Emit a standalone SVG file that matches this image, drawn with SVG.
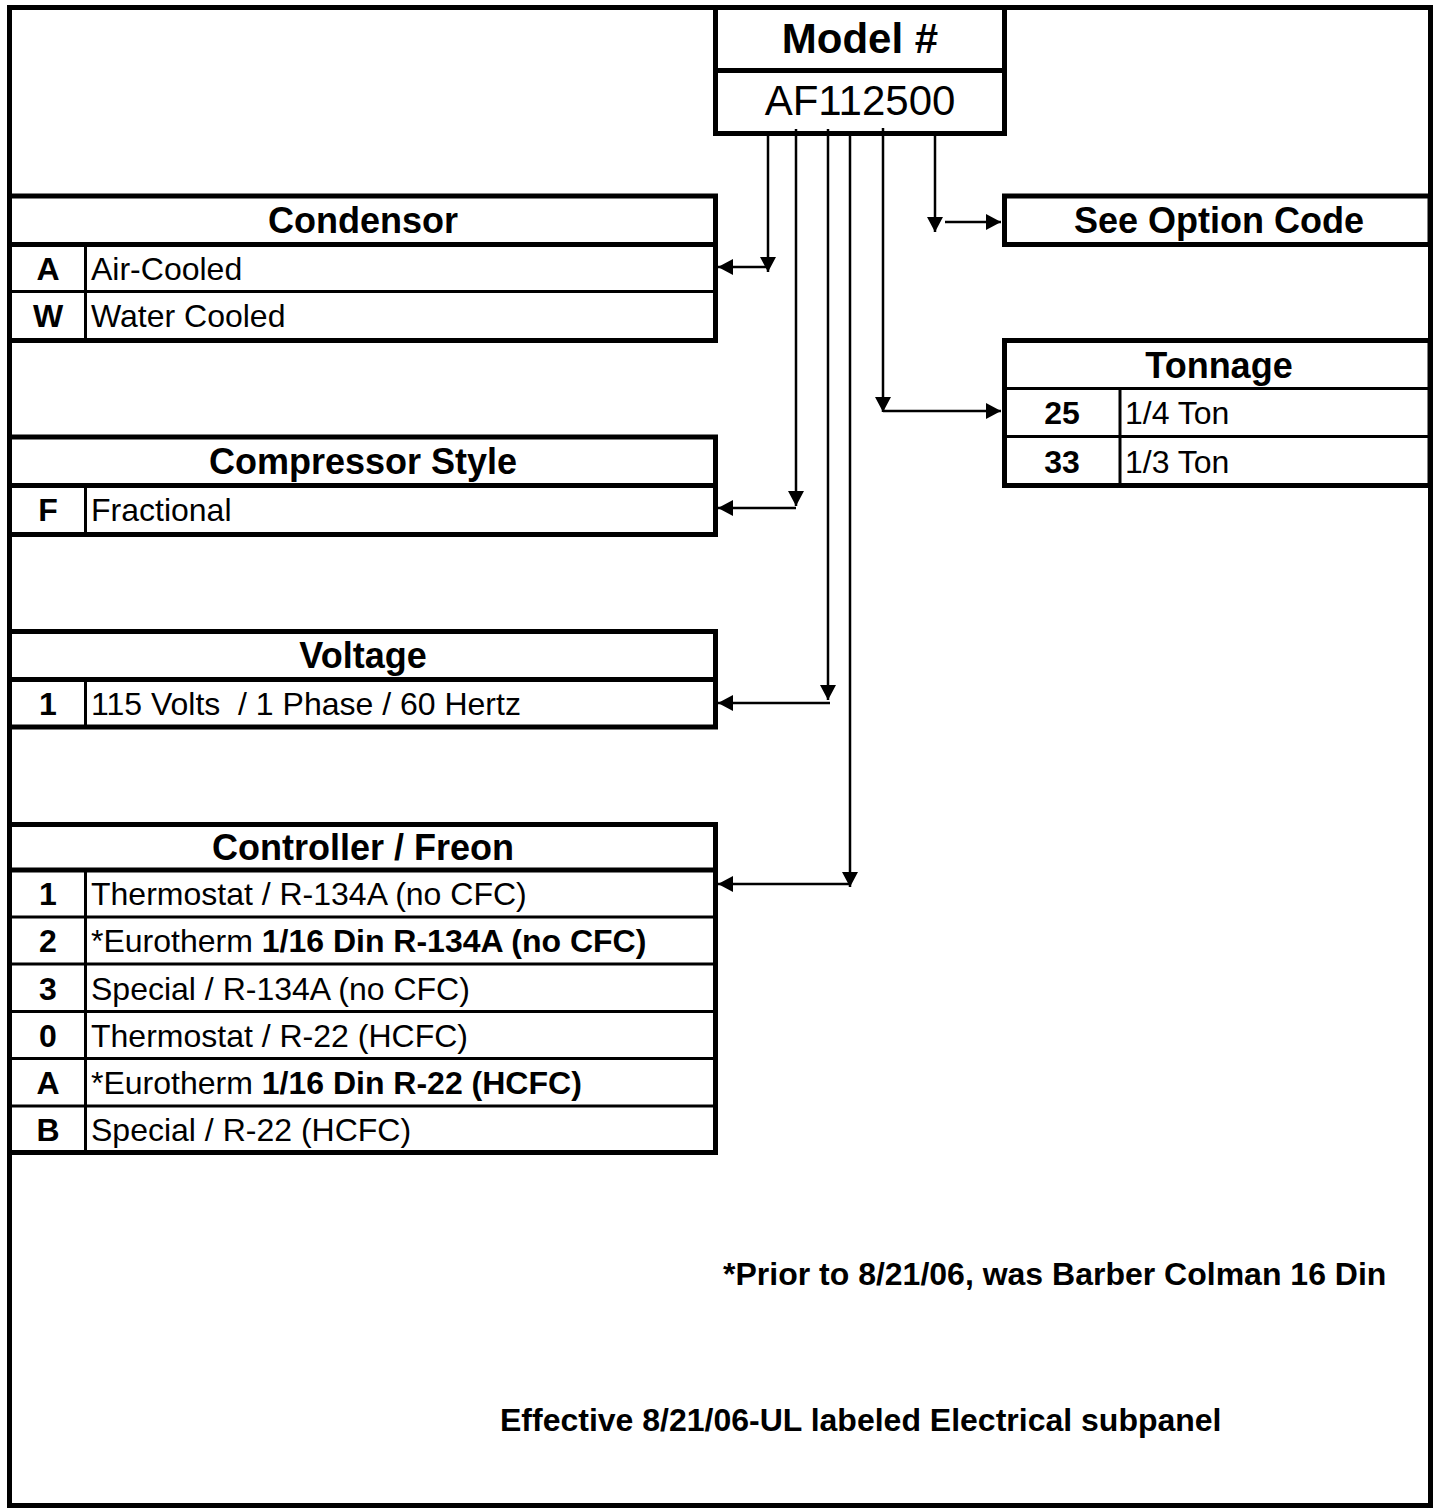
<svg xmlns="http://www.w3.org/2000/svg" width="1437" height="1511" viewBox="0 0 1437 1511">
<style>
.bx{fill:#fff;stroke:#000;stroke-width:5}
.d5{stroke:#000;stroke-width:5}
.d3{stroke:#000;stroke-width:3}
.cn{fill:none;stroke:#000;stroke-width:2.5}
text{font-family:"Liberation Sans",Arial,sans-serif;fill:#000;white-space:pre}
.h{font-size:36px;font-weight:bold;text-anchor:middle}
.k{font-size:32px;font-weight:bold;text-anchor:middle}
.r{font-size:32px}
.b{font-weight:bold}
.n{font-size:32px;font-weight:bold}
</style>
<defs>
<marker id="ah" markerUnits="userSpaceOnUse" markerWidth="16" markerHeight="16" refX="15" refY="8" orient="auto" viewBox="0 0 16 16">
<path d="M0,0 L15,8 L0,16 z" fill="#000"/>
</marker>
</defs>
<rect x="9.5" y="7.5" width="1421" height="1498" fill="#fff" stroke="#000" stroke-width="5"/>

<g id="model">
<rect class="bx" x="715.5" y="7.5" width="289" height="126"/>
<line class="d5" x1="715.5" y1="70.5" x2="1004.5" y2="70.5"/>
<text x="860" y="53" style="font-size:42px;font-weight:bold;text-anchor:middle">Model #</text>
<text x="860" y="115" style="font-size:42px;text-anchor:middle">AF112500</text>
</g>

<g id="condensor">
<rect class="bx" x="9.5" y="196" width="706" height="144.5"/>
<line class="d5" x1="9.5" y1="244.5" x2="715.5" y2="244.5"/>
<line class="d3" x1="9.5" y1="291.5" x2="715.5" y2="291.5"/>
<line class="d3" x1="85.5" y1="244.5" x2="85.5" y2="340.5"/>
<text class="h" x="363" y="233">Condensor</text>
<text class="k" x="48" y="280">A</text><text class="r" x="91" y="280">Air-Cooled</text>
<text class="k" x="48" y="327">W</text><text class="r" x="91" y="327">Water Cooled</text>
</g>

<g id="compressor">
<rect class="bx" x="9.5" y="437" width="706" height="97.5"/>
<line class="d5" x1="9.5" y1="485.5" x2="715.5" y2="485.5"/>
<line class="d3" x1="85.5" y1="485.5" x2="85.5" y2="534.5"/>
<text class="h" x="363" y="474">Compressor Style</text>
<text class="k" x="48" y="521">F</text><text class="r" x="91" y="521">Fractional</text>
</g>

<g id="voltage">
<rect class="bx" x="9.5" y="631.5" width="706" height="95.5"/>
<line class="d5" x1="9.5" y1="679.5" x2="715.5" y2="679.5"/>
<line class="d3" x1="85.5" y1="679.5" x2="85.5" y2="727"/>
<text class="h" x="363" y="668">Voltage</text>
<text class="k" x="48" y="715">1</text><text class="r" x="91" y="715">115 Volts  / 1 Phase / 60 Hertz</text>
</g>

<g id="controller">
<rect class="bx" x="9.5" y="824.5" width="706" height="328"/>
<line class="d5" x1="9.5" y1="870" x2="715.5" y2="870"/>
<line class="d3" x1="9.5" y1="917" x2="715.5" y2="917"/>
<line class="d3" x1="9.5" y1="964" x2="715.5" y2="964"/>
<line class="d3" x1="9.5" y1="1011.5" x2="715.5" y2="1011.5"/>
<line class="d3" x1="9.5" y1="1058.5" x2="715.5" y2="1058.5"/>
<line class="d3" x1="9.5" y1="1106" x2="715.5" y2="1106"/>
<line class="d3" x1="85.5" y1="870" x2="85.5" y2="1152.5"/>
<text class="h" x="363" y="860">Controller / Freon</text>
<text class="k" x="48" y="905">1</text><text class="r" x="91" y="905">Thermostat / R-134A (no CFC)</text>
<text class="k" x="48" y="952">2</text><text class="r" x="91" y="952">*Eurotherm <tspan class="b">1/16 Din R-134A (no CFC)</tspan></text>
<text class="k" x="48" y="999.5">3</text><text class="r" x="91" y="999.5">Special / R-134A (no CFC)</text>
<text class="k" x="48" y="1046.5">0</text><text class="r" x="91" y="1046.5">Thermostat / R-22 (HCFC)</text>
<text class="k" x="48" y="1093.5">A</text><text class="r" x="91" y="1093.5">*Eurotherm <tspan class="b">1/16 Din R-22 (HCFC)</tspan></text>
<text class="k" x="48" y="1140.5">B</text><text class="r" x="91" y="1140.5">Special / R-22 (HCFC)</text>
</g>

<g id="option">
<rect class="bx" x="1004.5" y="196" width="425.5" height="48.5"/>
<text class="h" x="1219" y="233">See Option Code</text>
</g>

<g id="tonnage">
<rect class="bx" x="1004.5" y="340.5" width="425.5" height="145"/>
<line class="d3" x1="1004.5" y1="388.5" x2="1430" y2="388.5"/>
<line class="d3" x1="1004.5" y1="436.5" x2="1430" y2="436.5"/>
<line class="d3" x1="1120" y1="388.5" x2="1120" y2="485.5"/>
<text class="h" x="1219" y="377.5">Tonnage</text>
<text class="k" x="1062" y="424">25</text><text class="r" x="1125" y="424">1/4 Ton</text>
<text class="k" x="1062" y="472.5">33</text><text class="r" x="1125" y="472.5">1/3 Ton</text>
</g>

<g id="connectors">
<line class="cn" x1="768" y1="133" x2="768" y2="272" marker-end="url(#ah)"/>
<line class="cn" x1="768" y1="267" x2="718" y2="267" marker-end="url(#ah)"/>
<line class="cn" x1="796" y1="129" x2="796" y2="506" marker-end="url(#ah)"/>
<line class="cn" x1="796" y1="508" x2="718" y2="508" marker-end="url(#ah)"/>
<line class="cn" x1="828" y1="129" x2="828" y2="700" marker-end="url(#ah)"/>
<line class="cn" x1="830" y1="703" x2="718" y2="703" marker-end="url(#ah)"/>
<line class="cn" x1="850" y1="133" x2="850" y2="887" marker-end="url(#ah)"/>
<line class="cn" x1="850" y1="884" x2="718" y2="884" marker-end="url(#ah)"/>
<line class="cn" x1="883" y1="128" x2="883" y2="412" marker-end="url(#ah)"/>
<line class="cn" x1="883" y1="411" x2="1001" y2="411" marker-end="url(#ah)"/>
<line class="cn" x1="935" y1="133" x2="935" y2="232" marker-end="url(#ah)"/>
<line class="cn" x1="945" y1="222" x2="1001" y2="222" marker-end="url(#ah)"/>
</g>

<g id="notes">
<text class="n" x="723" y="1285">*Prior to 8/21/06, was Barber Colman 16 Din</text>
<text class="n" x="500" y="1431">Effective 8/21/06-UL labeled Electrical subpanel</text>
</g>
</svg>
